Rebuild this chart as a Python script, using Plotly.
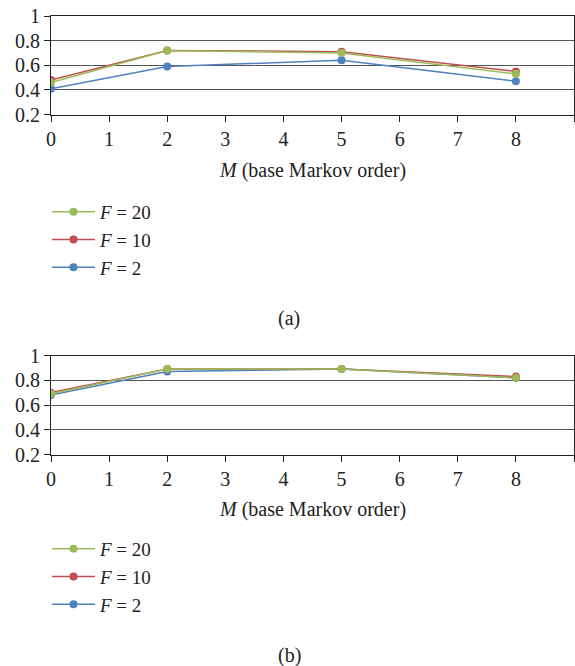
import plotly.graph_objects as go

M = [0, 2, 5, 8]
a_f20 = [0.46, 0.72, 0.70, 0.53]
a_f10 = [0.48, 0.72, 0.71, 0.55]
a_f2 = [0.41, 0.59, 0.64, 0.47]
b_f20 = [0.69, 0.89, 0.89, 0.82]
b_f10 = [0.70, 0.89, 0.89, 0.83]
b_f2 = [0.68, 0.87, 0.89, 0.82]
series_names = ["<i>F</i> = 20", "<i>F</i> = 10", "<i>F</i> = 2"]
colors = ["#9BBB59", "#C0504D", "#4F81BD"]
x_ticks = [0, 1, 2, 3, 4, 5, 6, 7, 8, 9]
x_ticklabels = ["0", "1", "2", "3", "4", "5", "6", "7", "8", ""]
y_ticks = [0.2, 0.4, 0.6, 0.8, 1.0]
y_ticklabels = ["0.2", "0.4", "0.6", "0.8", "1"]

FONT = "Liberation Serif"
FS = 20
W, H = 575, 666
L, R = 51, 1

fig = go.Figure()

panels = [
    ("x", "y", "legend", [a_f20, a_f10, a_f2]),
    ("x2", "y2", "legend2", [b_f20, b_f10, b_f2]),
]
for xa, ya, lg, vals in panels:
    for i in [2, 1, 0]:
        fig.add_trace(go.Scatter(
            x=M, y=vals[i], mode="lines+markers", name=series_names[i],
            line=dict(color=colors[i], width=1.5),
            marker=dict(color=colors[i], size=8),
            xaxis=xa, yaxis=ya, legend=lg, legendrank=i + 1,
        ))

def py(px):
    return 1 - px / H

def pxp(px):
    return (px - L) / (W - L - R)

axis_common = dict(
    showline=True, mirror=True, linecolor="#222", linewidth=1.2,
    ticks="outside", ticklen=6, tickcolor="#222", tickwidth=1,
    tickfont=dict(family=FONT, size=FS, color="#222"),
    zeroline=False, automargin=False,
)
xcommon = dict(axis_common, range=[0, 9], tickvals=x_ticks, ticktext=x_ticklabels,
               showgrid=False)
ycommon = dict(axis_common, range=[0.2, 1.0], tickvals=y_ticks, ticktext=y_ticklabels,
               showgrid=True, gridcolor="#555555", gridwidth=1)

def ann(text, x, y):
    return dict(text=text, x=pxp(x), y=py(y), xref="paper", yref="paper",
                showarrow=False, xanchor="center", yanchor="middle",
                font=dict(family=FONT, size=FS, color="#222"))

legend_common = dict(xanchor="left", yanchor="top", bgcolor="rgba(0,0,0,0)",
                     itemwidth=43, tracegroupgap=0,
                     font=dict(family=FONT, size=19, color="#222"))

fig.update_layout(
    width=W, height=H,
    margin=dict(l=L, r=R, t=0, b=0, autoexpand=False),
    paper_bgcolor="white", plot_bgcolor="white",
    xaxis=dict(xcommon, domain=[0, 1], anchor="y"),
    yaxis=dict(ycommon, domain=[py(114.5), py(16)], anchor="x"),
    xaxis2=dict(xcommon, domain=[0, 1], anchor="y2"),
    yaxis2=dict(ycommon, domain=[py(454.5), py(355.5)], anchor="x2"),
    legend=dict(legend_common, x=pxp(47), y=py(193)),
    legend2=dict(legend_common, x=pxp(47), y=py(530)),
    annotations=[
        ann("<i>M</i> (base Markov order)", 312, 170),
        ann("(a)", 289, 319),
        ann("<i>M</i> (base Markov order)", 312, 510),
        ann("(b)", 289, 655),
    ],
)

fig.write_html("out.html")
